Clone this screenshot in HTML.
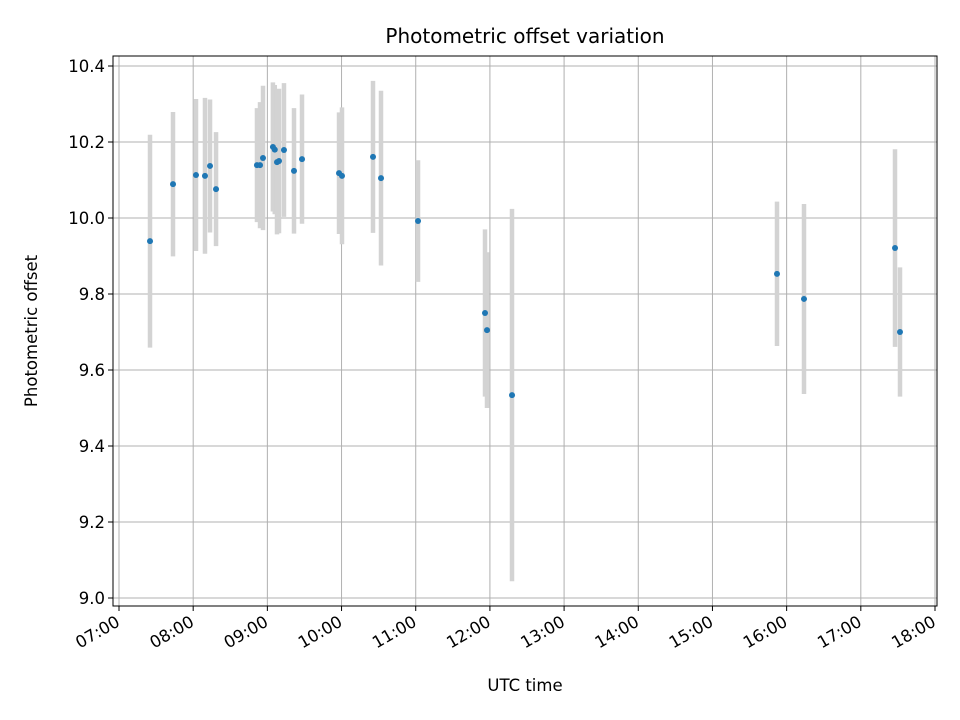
<!DOCTYPE html>
<html><head><meta charset="utf-8"><style>body{margin:0;background:#fff}svg{display:block;font-family:"DejaVu Sans","Liberation Sans",sans-serif}</style></head>
<body>
<svg id="chart" width="960" height="720" viewBox="0 0 960 720">
<rect width="960" height="720" fill="#fff"/>
<g id="grid"></g><g id="bars"></g><g id="pts"></g><g id="axes"></g>
<text x="525" y="43" text-anchor="middle" font-size="20">Photometric offset variation</text>
<text x="525" y="691" text-anchor="middle" font-size="16.5">UTC time</text>
<text transform="translate(37,331) rotate(-90)" text-anchor="middle" font-size="16.5">Photometric offset</text>
</svg>
<script>
const times=[7.418,7.728,8.038,8.159,8.227,8.308,8.860,8.901,8.941,9.075,9.100,9.130,9.157,9.224,9.359,9.467,9.966,10.006,10.424,10.532,11.031,11.934,11.961,12.298,15.870,16.234,17.461,17.528];
const offsets=[9.939,10.089,10.113,10.111,10.137,10.076,10.139,10.139,10.158,10.187,10.180,10.147,10.150,10.179,10.124,10.155,10.118,10.111,10.161,10.105,9.992,9.750,9.705,9.534,9.853,9.787,9.921,9.700];
const errors=[0.28,0.19,0.20,0.205,0.175,0.15,0.15,0.166,0.19,0.17,0.17,0.19,0.19,0.176,0.165,0.17,0.16,0.18,0.20,0.23,0.16,0.22,0.205,0.49,0.19,0.25,0.26,0.17];
const xTicks=[7,8,9,10,11,12,13,14,15,16,17,18];
const xTickLabels=["07:00","08:00","09:00","10:00","11:00","12:00","13:00","14:00","15:00","16:00","17:00","18:00"];
const yTicks=[9.0,9.2,9.4,9.6,9.8,10.0,10.2,10.4];
const yTickLabels=["9.0","9.2","9.4","9.6","9.8","10.0","10.2","10.4"];
const L=113,R=937,T=56,B=606;
const xs=t=>119+(t-7)*(816/11);
const ys=v=>598-(v-9)*380;
const NS="http://www.w3.org/2000/svg";
function mk(tag,attrs,parent){const e=document.createElementNS(NS,tag);for(const k in attrs)e.setAttribute(k,attrs[k]);parent.appendChild(e);return e;}
const grid=document.getElementById('grid'),bars=document.getElementById('bars'),pts=document.getElementById('pts'),axes=document.getElementById('axes');
xTicks.forEach((t,i)=>{const x=xs(t);
 const g=mk('line',{x1:x,x2:x,y1:T,y2:B,stroke:'#b0b0b0','stroke-width':1},grid);
 
 mk('line',{x1:x,x2:x,y1:B,y2:B+5,stroke:'#000','stroke-width':1},axes);
 const ax=x+2,ay=B+19;
 const tx=mk('text',{x:ax,y:ay,'text-anchor':'end','font-size':16.5,transform:`rotate(-30 ${ax} ${ay})`},axes);
 tx.textContent=xTickLabels[i];});
yTicks.forEach((v,i)=>{const y=ys(v);
 const g=mk('line',{x1:L,x2:R,y1:y,y2:y,stroke:'#b0b0b0','stroke-width':1},grid);
 
 mk('line',{x1:L-5,x2:L,y1:y,y2:y,stroke:'#000','stroke-width':1},axes);
 const tx=mk('text',{x:L-8,y:y+6,'text-anchor':'end','font-size':16.5},axes);
 tx.textContent=yTickLabels[i];});
const fr=mk('rect',{x:L,y:T,width:R-L,height:B-T,fill:'none',stroke:'#000','stroke-width':1},axes);

times.forEach((t,i)=>{const x=xs(t);
 const b=mk('line',{x1:x,x2:x,y1:ys(offsets[i]+errors[i]),y2:ys(offsets[i]-errors[i]),stroke:'#d3d3d3','stroke-width':4.5},bars);
 
 const c=mk('circle',{cx:x,cy:ys(offsets[i]),r:3,fill:'#1f77b4'},pts);
 });
</script>
</body></html>
